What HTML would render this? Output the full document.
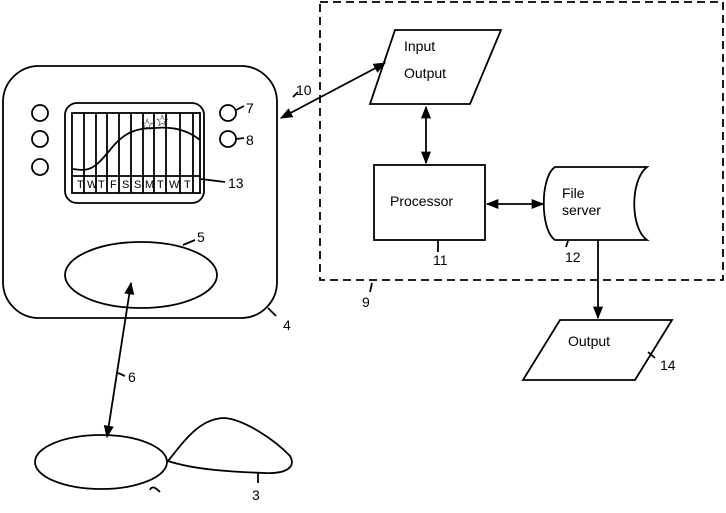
<!DOCTYPE html>
<html><head><style>body{margin:0;background:#fff}svg{display:block}text{font-family:"Liberation Sans",sans-serif;fill:#000}</style></head>
<body>
<svg width="726" height="513" viewBox="0 0 726 513" xmlns="http://www.w3.org/2000/svg">
<defs><marker id="a" viewBox="0 0 10 10" refX="9" refY="5" markerWidth="7" markerHeight="7" orient="auto-start-reverse"><path d="M0,1 L10,5 L0,9 z" fill="#000"/></marker></defs>
<g fill="none" stroke="#000" stroke-width="1.8">
<rect x="3" y="66" width="274" height="252" rx="36"/>
<rect x="65" y="103" width="139" height="100" rx="12"/>
<rect x="72" y="113" width="128" height="80"/>
<line x1="72" y1="176" x2="200" y2="176"/>
<path d="M84 113V193M96 113V193M107 113V193M119 113V193M131 113V193M143 113V193M154 113V193M166 113V193M180 113V193M193 113V193"/>
<path d="M73 169 C90 172 95 168 110 150 C125 130 140 128 155 128 C175 126 190 132 200 140"/>
<circle cx="40" cy="113" r="8"/><circle cx="40" cy="139" r="8"/><circle cx="40" cy="167" r="8"/>
<circle cx="228" cy="113" r="8"/><circle cx="228" cy="139" r="8"/>
<path d="M236 110L244 106M236 139L244 138M201 179L225 182M183 245L195 240M268 308L276 316M118 373L125 376"/>
<ellipse cx="141" cy="275" rx="76" ry="33"/>
<ellipse cx="101" cy="462" rx="66" ry="27"/>
<path d="M168 461 C185 440 200 418 225 418 C245 420 275 440 290 456 C296 466 288 474 265 473 C235 472 195 470 168 461 Z"/>
<line x1="258" y1="473" x2="258" y2="483"/>
<path d="M320 2H723V280H320Z" stroke-dasharray="8 5"/>
<path d="M395 30H501L470 104H370Z"/>
<rect x="374" y="165" width="111" height="75"/>
<path d="M555 167H647 C630 180 630 228 647 240H555 C540 230 540 177 555 167Z"/>
<path d="M560 320H672L635 380H523Z"/>
<line x1="426" y1="107" x2="426" y2="163" marker-start="url(#a)" marker-end="url(#a)"/>
<line x1="487" y1="204" x2="543" y2="204" marker-start="url(#a)" marker-end="url(#a)"/>
<line x1="598" y1="240" x2="598" y2="318" marker-end="url(#a)"/>
<line x1="281" y1="118" x2="385" y2="63" marker-start="url(#a)" marker-end="url(#a)"/>
<line x1="131" y1="283" x2="107" y2="437" marker-start="url(#a)" marker-end="url(#a)"/>
<path d="M438 240V252M568 241L566 247M648 352L655 358M372 283L370 292M293 97L298 92M150 490C152 485 156 488 160 492"/>
</g>
<g font-size="11">
<text x="77" y="188">T</text><text x="87" y="188">W</text><text x="98" y="188">T</text><text x="110" y="188">F</text><text x="122" y="188">S</text><text x="134" y="188">S</text><text x="145" y="188">M</text><text x="157" y="188">T</text><text x="169" y="188">W</text><text x="184" y="188">T</text>
</g>
<g font-size="14">
<text x="140" y="130" font-size="16">☆</text><text x="155" y="126" font-size="16">☆</text>
<text x="246" y="113">7</text><text x="246" y="145">8</text><text x="228" y="188">13</text>
<text x="197" y="242">5</text><text x="283" y="330">4</text><text x="128" y="382">6</text>
<text x="252" y="500">3</text><text x="296" y="95">10</text><text x="362" y="307">9</text>
<text x="433" y="265">11</text><text x="565" y="262">12</text><text x="660" y="370">14</text>
<text x="404" y="51">Input</text><text x="404" y="78">Output</text>
<text x="390" y="206">Processor</text>
<text x="562" y="198">File</text><text x="562" y="215">server</text>
<text x="568" y="346">Output</text>
</g>
</svg>
</body></html>
